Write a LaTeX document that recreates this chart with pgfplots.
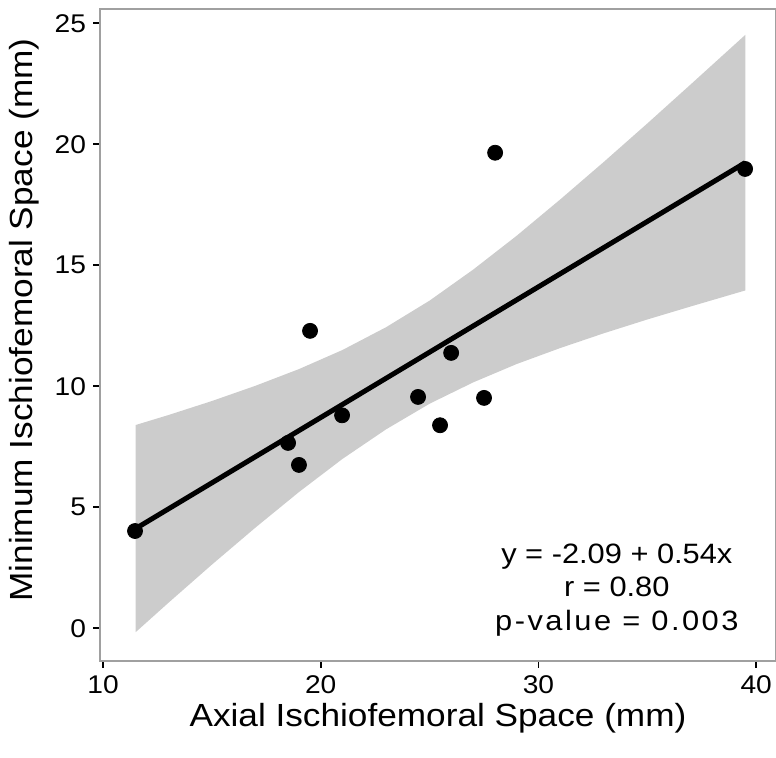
\documentclass[border=0pt]{standalone}
\usepackage{fontspec}
\setmainfont[FakeStretch=1.1]{Liberation Sans}
\usepackage{pgfplots}
\pgfplotsset{compat=1.18}
\usepgfplotslibrary{fillbetween}
\definecolor{bandcol}{HTML}{CCCCCC}
\definecolor{framecol}{HTML}{A0A0A0}

\begin{document}
\begin{tikzpicture}
\begin{axis}[at={(50pt,48.5pt)}, anchor=south west, scale only axis,
  width=338pt, height=326pt,
  xmin=9.862, xmax=40.91, ymin=-1.351, ymax=25.59,
  xtick={10,20,30,40}, ytick={0,5,10,15,20,25},
  axis line style={draw=framecol, line width=0.75pt},
  tick style={black, line width=0.8pt}, tick align=outside, tick pos=left,
  major tick length=3.5pt,
  tick label style={font=\fontsize{12.8}{15}\selectfont, /pgf/number format/assume math mode=true},
  xticklabel style={yshift=-0.5pt},
  xlabel={Axial Ischiofemoral Space (mm)},
  ylabel={Minimum Ischiofemoral Space (mm)},
  label style={font=\fontsize{16}{19}\selectfont},
  xlabel style={yshift=2.5pt},
  ylabel style={at={(ticklabel cs:0.523)}, yshift=1pt}]
  % 95% confidence band, upper and lower edges
  \addplot[draw=none, name path=up] coordinates {
    (11.5,8.40) (13,8.81) (15,9.39) (17,10.02) (19,10.71) (21,11.50) (23,12.44)
    (25,13.54) (27,14.82) (29,16.22) (31,17.72) (33,19.27) (35,20.86) (37,22.48) (39.5,24.52)};
  \addplot[draw=none, name path=lo] coordinates {
    (11.5,-0.16) (13,1.05) (15,2.63) (17,4.16) (19,5.63) (21,7.00) (23,8.22)
    (25,9.28) (27,10.16) (29,10.92) (31,11.58) (33,12.19) (35,12.76) (37,13.30) (39.5,13.96)};
  \addplot[bandcol, draw=none] fill between[of=up and lo];
  % fitted line y = -2.09 + 0.54x
  \addplot[black, line width=2.5pt] coordinates {(11.5,4.12) (39.5,19.24)};
  \addplot[only marks, mark=*, mark size=3.75pt, black] coordinates {
    (11.47,4.02) (18.50,7.66) (19.00,6.75) (19.51,12.29) (20.98,8.80) (24.47,9.56)
    (25.48,8.39) (25.99,11.38) (27.50,9.52) (28.01,19.65) (39.49,18.98)};
  \node[anchor=base, font=\fontsize{14}{16}\selectfont] at (axis cs:33.6,2.68) {y = -2.09 + 0.54x};
  \node[anchor=base, font=\fontsize{14}{16}\selectfont] at (axis cs:33.6,1.30) {r = 0.80};
  \node[anchor=base, font=\fontsize{14}{16}\selectfont\addfontfeature{LetterSpace=9}] at (axis cs:33.6,-0.08) {p-value = 0.003};
\end{axis}
\pgfresetboundingbox
\useasboundingbox (0,0) rectangle (388pt,379pt);
\end{tikzpicture}
\end{document}
